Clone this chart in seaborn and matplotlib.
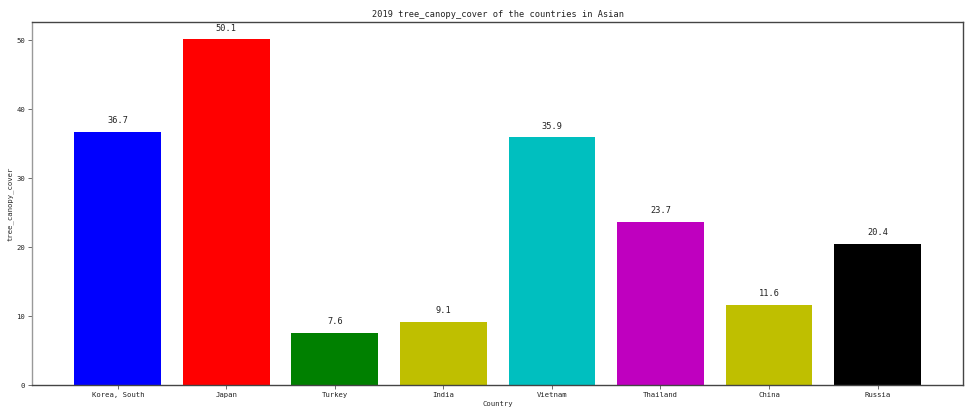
import matplotlib
matplotlib.use("Agg")
import matplotlib.pyplot as plt
import seaborn as sns
import pandas as pd

countries = ["Korea, South", "Japan", "Turkey", "India", "Vietnam", "Thailand", "China", "Russia"]
values = [36.7, 50.1, 7.6, 9.1, 35.9, 23.7, 11.6, 20.4]
colors = ["#0000ff", "#ff0000", "#008000", "#bfbf00", "#00bfbf", "#bf00bf", "#bfbf00", "#000000"]
title = "2019 tree_canopy_cover of the countries in Asian"
xlabel = "Country"
ylabel = "tree_canopy_cover"

sns.set_style("ticks")
plt.rcParams["font.family"] = ["DejaVu Sans Mono", "Noto Sans CJK SC"]

df = pd.DataFrame({"Country": countries, "value": values})

fig = plt.figure(figsize=(9.73, 4.11), dpi=100)
ax = fig.add_axes([0.033, 0.063, 0.957, 0.883])
sns.barplot(data=df, x="Country", y="value", hue="Country", palette=colors,
            dodge=False, legend=False, width=0.8, linewidth=0, saturation=1, ax=ax)

for i, v in enumerate(values):
    ax.text(i, v + 1, f"{v}", ha="center", va="bottom", fontsize=6.2, color="#222222")

ax.set_xlim(-0.79, 7.79)
ax.set_ylim(0, 52.6)
ax.set_title(title, fontsize=6.2, pad=4, color="#222222")
ax.set_xlabel(xlabel, fontsize=5.2, labelpad=2)
ax.set_ylabel(ylabel, fontsize=5.2, labelpad=2)
ax.tick_params(axis="both", labelsize=5.2, length=3, width=0.6, pad=2, colors="#555555", labelcolor="#222222")
for s in ax.spines.values():
    s.set_linewidth(1.0)
    s.set_color("#444444")
ax.spines["left"].set_color("#999999")

fig.savefig("out.png", dpi=100)
